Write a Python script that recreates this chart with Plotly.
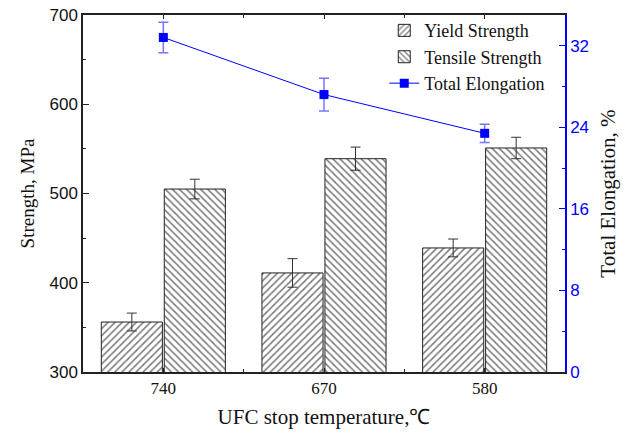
import plotly.graph_objects as go

# Ultra-fast cooling stop temperature groups
categories = ["740", "670", "580"]

# Strength values (MPa) with error bars
yield_strength = [356, 411, 439]
yield_err = [10, 16, 10]
tensile_strength = [505, 539, 551]
tensile_err = [11, 13, 12]

# Total elongation (%) with error bars
elongation = [32.8, 27.2, 23.4]
elongation_err = [1.5, 1.6, 0.9]

x_pos = list(range(len(categories)))

serif = "Liberation Serif"
sans = "Liberation Sans"
blue = "#0000ff"
ink = "#111111"

fig = go.Figure()

fig.add_trace(go.Bar(
    x=x_pos, y=yield_strength, name="Yield Strength",
    marker=dict(color="white", line=dict(color="#222222", width=1),
                pattern=dict(shape="/", fgcolor="#000000", size=5, solidity=0.33)),
    error_y=dict(type="data", array=yield_err, color="#333333", thickness=1, width=5),
))
fig.add_trace(go.Bar(
    x=x_pos, y=tensile_strength, name="Tensile Strength",
    marker=dict(color="white", line=dict(color="#222222", width=1),
                pattern=dict(shape="\\", fgcolor="#000000", size=5, solidity=0.33)),
    error_y=dict(type="data", array=tensile_err, color="#333333", thickness=1, width=5),
))
fig.add_trace(go.Scatter(
    x=x_pos, y=elongation, name="Total Elongation", yaxis="y2",
    mode="lines+markers",
    line=dict(color=blue, width=1),
    marker=dict(symbol="square", size=9, color=blue),
    error_y=dict(type="data", array=elongation_err, color="rgba(60,60,255,0.7)",
                 thickness=1.5, width=5),
))

fig.update_layout(
    width=625, height=433,
    margin=dict(l=83, r=60, t=15, b=61, autoexpand=False),
    plot_bgcolor="white", paper_bgcolor="white",
    barmode="group", bargap=0.216, bargroupgap=0.03,
    showlegend=True,
    legend=dict(x=0.625, y=1.008, xanchor="left", yanchor="top",
                bgcolor="rgba(0,0,0,0)", borderwidth=0,
                font=dict(family=serif, size=18, color=ink),
                tracegroupgap=0, itemwidth=30),
    xaxis=dict(
        range=[-0.5, 2.5], tickmode="array", tickvals=x_pos, ticktext=categories,
        showline=True, linecolor="#222222", linewidth=1.5, mirror="ticks",
        ticks="inside", ticklen=4, tickcolor="#222222",
        minor=dict(dtick=0.5, tick0=0.5, ticks="inside", ticklen=3, tickcolor="#222222"),
        showgrid=False, zeroline=False, automargin=False,
        tickfont=dict(family=serif, size=17, color=ink),
        title=dict(text="UFC stop temperature,℃", font=dict(family=serif, size=21, color=ink),
                   standoff=12),
    ),
    yaxis=dict(
        range=[300, 700], tickmode="linear", tick0=300, dtick=100,
        showline=True, linecolor="#222222", linewidth=1.5,
        ticks="inside", ticklen=6, tickcolor="#222222",
        minor=dict(dtick=50, ticks="inside", ticklen=3, tickcolor="#222222"),
        showgrid=False, zeroline=False, automargin=False,
        tickfont=dict(family=sans, size=17, color=ink),
        title=dict(text="Strength, MPa", font=dict(family=serif, size=19, color=ink),
                   standoff=10),
    ),
    yaxis2=dict(
        overlaying="y", side="right",
        range=[0, 35], tickmode="linear", tick0=0, dtick=8,
        showline=True, linecolor=blue, linewidth=1.5,
        ticks="inside", ticklen=6, tickcolor=blue,
        minor=dict(dtick=4, ticks="inside", ticklen=3, tickcolor=blue),
        showgrid=False, zeroline=False, automargin=False,
        tickfont=dict(family=sans, size=17, color=blue),
        title=dict(text="Total Elongation, %", font=dict(family=serif, size=21, color=ink),
                   standoff=12),
    ),
)

fig.write_html("out.html")
